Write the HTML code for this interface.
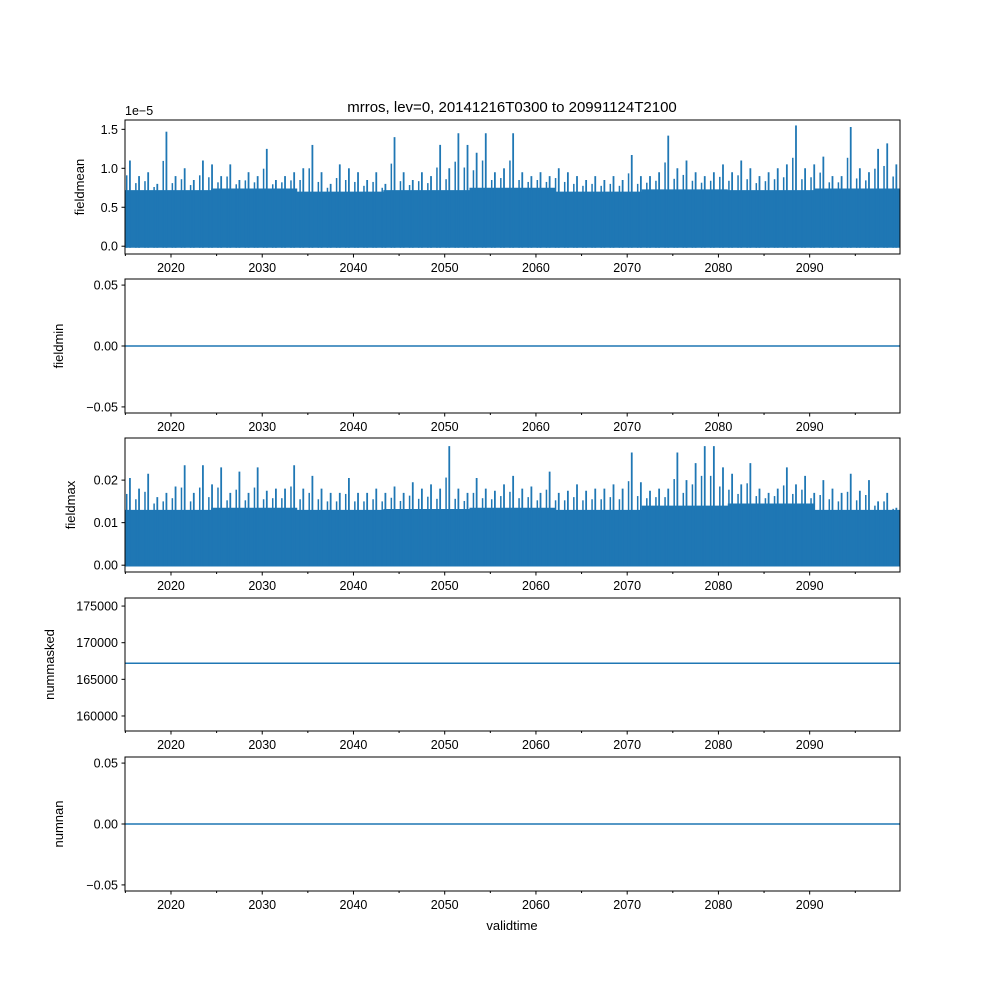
<!DOCTYPE html>
<html><head><meta charset="utf-8">
<style>
html,body{margin:0;padding:0;background:#fff;}
svg{display:block;font-family:"Liberation Sans","DejaVu Sans",sans-serif;}
</style></head>
<body>
<svg id="fig" width="1000" height="1000" viewBox="0 0 1000 1000">
<text x="512" y="112" font-size="15" text-anchor="middle">mrros, lev=0, 20141216T0300 to 20991124T2100</text>
<text x="512" y="930" font-size="13" text-anchor="middle">validtime</text>
</svg>
<script>
// ---- data ----
const years = [];
for (let y = 2015; y <= 2099; y++) years.push(y);
const meanPeaks = [1.1,0.9,0.95,0.8,1.47,0.9,1.0,0.85,1.1,1.05,0.9,1.05,0.85,0.95,0.9,1.25,0.85,0.9,0.95,1.0,1.3,0.95,0.8,1.05,1.0,0.95,0.85,0.95,0.8,1.4,0.95,0.85,0.95,0.9,1.3,1.0,1.45,1.3,1.2,1.45,0.95,1.0,1.45,0.95,0.9,0.95,0.9,1.0,0.95,0.9,0.85,0.9,0.85,0.9,0.85,1.17,0.9,0.9,0.95,1.42,1.0,1.1,0.95,0.9,0.95,1.05,0.95,1.1,1.0,0.9,0.95,1.0,1.05,1.55,1.0,1.05,1.15,0.9,0.9,1.53,1.0,0.95,1.25,1.32,1.05];
const meanBand = [0.72,0.74,0.7,0.72,0.75,0.7,0.73,0.72,0.74]; // per decade-ish bins
const maxPeaks = [2.05,1.8,2.15,1.6,1.7,1.85,2.35,1.7,2.35,1.9,2.3,1.7,2.2,1.7,2.3,1.75,1.8,1.8,2.35,1.8,2.1,1.8,1.7,1.7,2.05,1.7,1.7,1.8,1.7,1.85,1.7,1.95,1.8,1.9,1.8,2.8,1.8,1.7,2.05,1.8,1.75,1.9,2.1,1.8,1.85,1.7,2.2,1.7,1.75,1.9,1.75,1.8,1.8,1.9,1.8,2.65,1.95,1.75,1.8,1.8,2.65,2.0,2.4,2.8,2.8,2.3,2.15,1.9,2.4,1.8,1.7,1.8,2.3,1.9,2.1,1.7,2.0,1.8,1.7,2.15,1.75,2.0,1.5,1.7,1.35];
const maxBand = [1.3,1.35,1.3,1.32,1.35,1.3,1.4,1.45,1.3];
const fieldminValue = 0;
const nummaskedValue = 167200;
const numnanValue = 0;
const xTicks = [2020,2030,2040,2050,2060,2070,2080,2090];
const xMinor = [2015,2025,2035,2045,2055,2065,2075,2085,2095];

// ---- layout ----
const NS = "http://www.w3.org/2000/svg";
const svg = document.getElementById('fig');
const X0 = 125, X1 = 900, T0 = 2014.96, T1 = 2099.9;
const xs = t => X0 + (t - T0) / (T1 - T0) * (X1 - X0);
const C = '#1f77b4';
function el(tag, attrs, parent) {
  const e = document.createElementNS(NS, tag);
  for (const k in attrs) e.setAttribute(k, attrs[k]);
  (parent || svg).appendChild(e);
  return e;
}
const panels = [
  {name:'fieldmean', top:120, bot:254, lo:-0.1, hi:1.62, ticks:[0,0.5,1.0,1.5], fmt:v=>v.toFixed(1), offset:'1e\u22125'},
  {name:'fieldmin', top:279, bot:413, lo:-0.055, hi:0.055, ticks:[-0.05,0,0.05], fmt:v=>(v<0?'\u2212':'')+Math.abs(v).toFixed(2)},
  {name:'fieldmax', top:438, bot:572, lo:-0.16, hi:2.99, ticks:[0,1,2], fmt:v=>(v/100).toFixed(2)},
  {name:'nummasked', top:598, bot:731, lo:157950, hi:176100, ticks:[160000,165000,170000,175000], fmt:v=>String(v)},
  {name:'numnan', top:757, bot:891, lo:-0.055, hi:0.055, ticks:[-0.05,0,0.05], fmt:v=>(v<0?'\u2212':'')+Math.abs(v).toFixed(2)}
];
panels.forEach((p, pi) => {
  const g = el('g', {});
  
  
  const ys = v => p.bot - (v - p.lo) / (p.hi - p.lo) * (p.bot - p.top);
  const clipId = 'clip' + pi;
  const cp = el('clipPath', {id: clipId}, g);
  el('rect', {x:X0, y:p.top, width:X1-X0, height:p.bot-p.top}, cp);
  const dg = el('g', {'clip-path':'url(#'+clipId+')'}, g);
  
  
  if (pi === 0 || pi === 2) {
    const peaks = pi === 0 ? meanPeaks : maxPeaks;
    const band = pi === 0 ? meanBand : maxBand;
    const base = pi === 0 ? -0.02 : -0.03;
    // band fill
    let d = 'M' + xs(T0) + ',' + ys(base);
    band.forEach((b, i) => {
      const t0 = T0 + i * (T1 - T0) / band.length, t1 = T0 + (i + 1) * (T1 - T0) / band.length;
      d += 'L' + xs(t0) + ',' + ys(b) + 'L' + xs(t1) + ',' + ys(b);
    });
    d += 'L' + xs(T1) + ',' + ys(base) + 'Z';
    const bp = el('path', {d:d, fill:C}, dg);
    
    
    peaks.forEach((v, i) => {
      const x = xs(years[i] + 0.5);
      const ln = el('line', {x1:x, x2:x, y1:ys(base), y2:ys(v), stroke:C, 'stroke-width':1.8}, dg);
      
      
      const x2 = xs(years[i] + 0.15);
      const l2 = el('line', {x1:x2, x2:x2, y1:ys(base), y2:ys((v + band[Math.min(band.length-1, Math.floor(i/ (years.length/band.length)))]) / 2), stroke:C, 'stroke-width':1.5}, dg);
      
      
    });
  } else {
    const val = pi === 1 ? fieldminValue : pi === 3 ? nummaskedValue : numnanValue;
    const ln = el('line', {x1:xs(T0), x2:xs(T1), y1:ys(val), y2:ys(val), stroke:C, 'stroke-width':1.5}, dg);
    
    
  }
  // frame
  const fr = el('rect', {x:X0, y:p.top, width:X1-X0, height:p.bot-p.top, fill:'none', stroke:'#000', 'stroke-width':1}, g);
  
  
  // y ticks
  p.ticks.forEach(v => {
    const y = ys(v);
    el('line', {x1:X0-3.5, x2:X0, y1:y, y2:y, stroke:'#000'}, g);
    const tx = el('text', {x:X0-7, y:y+4.5, 'font-size':12.5, 'text-anchor':'end'}, g);
    tx.textContent = p.fmt(v);
    
    
  });
  if (p.offset) {
    const ot = el('text', {x:X0, y:p.top-5, 'font-size':12.5}, g);
    ot.textContent = p.offset;
    
    
  }
  // x ticks
  xTicks.forEach(t => {
    const x = xs(t);
    el('line', {x1:x, x2:x, y1:p.bot, y2:p.bot+3.5, stroke:'#000'}, g);
    const tx = el('text', {x:x, y:p.bot+18, 'font-size':12.5, 'text-anchor':'middle'}, g);
    tx.textContent = t;
    
    
  });
  xMinor.forEach(t => {
    const x = xs(t);
    el('line', {x1:x, x2:x, y1:p.bot, y2:p.bot+2, stroke:'#000'}, g);
  });
  // y label
  const cy = (p.top + p.bot) / 2;
  const lx = pi === 3 ? 54 : pi === 0 ? 84 : pi === 2 ? 75 : 63;
  const yl = el('text', {x:lx, y:cy, 'font-size':13, 'text-anchor':'middle', transform:'rotate(-90 '+lx+' '+cy+')'}, g);
  yl.textContent = p.name;
  
  
});
</script>
</body></html>
